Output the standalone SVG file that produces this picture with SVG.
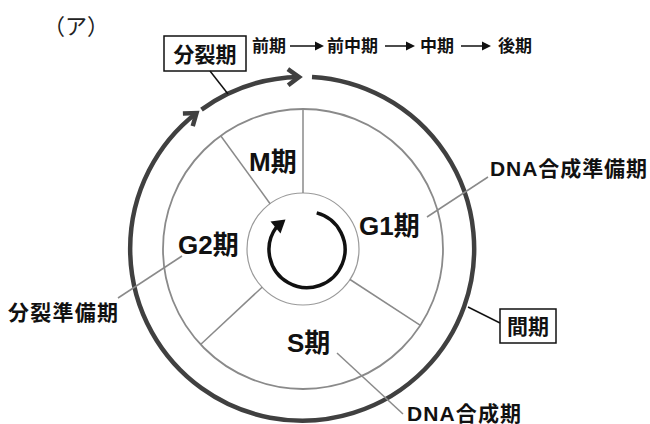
<svg xmlns="http://www.w3.org/2000/svg" width="650" height="424" viewBox="0 0 650 424">
<defs>
<style>
.t{font-family:"Liberation Sans","Noto Sans CJK JP",sans-serif;font-weight:bold;fill:#111}
.ph{font-size:26px}
.lb{font-size:21px}
.seq{font-size:17px}
.div{stroke:#8a8a8a;stroke-width:1.5;fill:none}
.lead{stroke:#8a8a8a;stroke-width:1.5;fill:none}
.blk{stroke:#111;stroke-width:1.5;fill:none}
.box{fill:#fff;stroke:#111;stroke-width:1.5}
.thick{stroke:#404040;stroke-width:4.5;fill:none;stroke-linecap:butt}
</style>
<marker id="chev" markerUnits="userSpaceOnUse" markerWidth="30" markerHeight="30" viewBox="-15 -15 30 30" refX="0" refY="0" orient="auto">
<path d="M-11,-8 L0,0 L-11,8" fill="none" stroke="#404040" stroke-width="4.5" stroke-linejoin="miter"/>
</marker>
<marker id="sa" markerUnits="userSpaceOnUse" markerWidth="12" markerHeight="12" viewBox="-8 -6 12 12" refX="0" refY="0" orient="auto">
<path d="M-7,-4.5 L2,0 L-7,4.5 Z" fill="#111"/>
</marker>
</defs>
<rect width="650" height="424" fill="#fff"/>

<text x="43" y="34" style="font-family:'Liberation Serif','Noto Sans CJK JP',serif;font-size:22px;fill:#222">（ア）</text>

<g id="cycle">
<circle cx="303" cy="249" r="140" fill="none" stroke="#8a8a8a" stroke-width="1.8"/>
<circle cx="303" cy="249" r="56" fill="none" stroke="#9a9a9a" stroke-width="1.2"/>
<line class="div" x1="303" y1="193" x2="303" y2="109"/>
<line class="div" x1="270.1" y1="203.7" x2="220.7" y2="135.7"/>
<line class="div" x1="262.1" y1="287.2" x2="200.6" y2="344.5"/>
<line class="div" x1="350" y1="279.5" x2="420.4" y2="325.3"/>
</g>

<g id="outer-arrows">
<path class="thick" d="M312,77 A172,172 0 1 1 196.5,113" marker-end="url(#chev)"/>
<path class="thick" d="M201.5,109.6 A172,172 0 0 1 299,77" marker-end="url(#chev)"/>
</g>

<g id="center-arrow">
<path d="M316.7,212.9 A38,38 0 1 1 276.5,227" fill="none" stroke="#111" stroke-width="3.5"/>
<polygon points="285.5,219.5 270.5,221.5 280.5,233.5" fill="#111"/>
</g>

<g id="M"><text class="t ph" x="249" y="171">M期</text></g>
<g id="G1"><text class="t ph" x="359" y="235">G1期</text></g>
<g id="G2"><text class="t ph" x="178" y="254">G2期</text></g>
<g id="S"><text class="t ph" x="287" y="352">S期</text></g>

<g id="label-division">
<rect class="box" x="164" y="36" width="82" height="35"/>
<text class="t lb" x="205" y="62" text-anchor="middle">分裂期</text>
</g>
<g id="label-interphase">
<rect class="box" x="500" y="309" width="56" height="34"/>
<text class="t lb" x="528" y="334" text-anchor="middle">間期</text>
</g>
<g id="label-g1"><text class="t lb" x="490" y="176" textLength="157" lengthAdjust="spacing">DNA合成準備期</text></g>
<g id="label-g2"><text class="t lb" x="8" y="320" textLength="110" lengthAdjust="spacing">分裂準備期</text></g>
<g id="label-s"><text class="t lb" x="407" y="421" textLength="114" lengthAdjust="spacing">DNA合成期</text></g>

<g id="sequence">
<text class="t seq" x="252" y="52">前期</text>
<text class="t seq" x="327" y="52">前中期</text>
<text class="t seq" x="420" y="52">中期</text>
<text class="t seq" x="498" y="52">後期</text>
</g>

<g id="connectors">
<line class="blk" x1="290" y1="46" x2="322" y2="46" marker-end="url(#sa)"/>
<line class="blk" x1="385" y1="46" x2="413" y2="46" marker-end="url(#sa)"/>
<line class="blk" x1="461" y1="46" x2="489" y2="46" marker-end="url(#sa)"/>
<line class="blk" x1="210" y1="71" x2="228" y2="94"/>
<line class="blk" x1="468" y1="307" x2="500" y2="323"/>
<line class="lead" x1="488" y1="177" x2="427" y2="217"/>
<line class="lead" x1="118" y1="298" x2="182" y2="256"/>
<line class="lead" x1="337" y1="353" x2="403" y2="414"/>
</g>
</svg>
